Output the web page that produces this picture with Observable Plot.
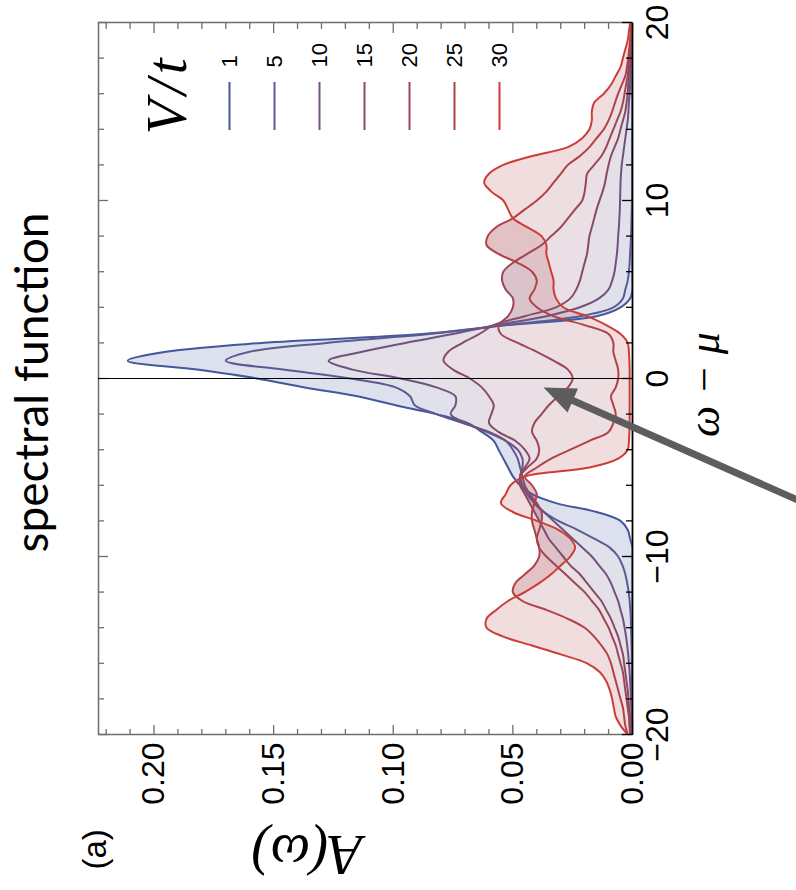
<!DOCTYPE html>
<html><head><meta charset="utf-8">
<script src="https://cdn.jsdelivr.net/npm/d3@7"></script>
<script src="https://cdn.jsdelivr.net/npm/@observablehq/plot@0.6"></script>
<style>
html,body{margin:0;padding:0;background:#fff;}
#page{position:relative;width:796px;height:890px;overflow:hidden;}
#wrap{position:absolute;left:0;top:0;width:890px;height:796px;transform-origin:0 0;transform:translate(0px,890px) rotate(-90deg);}
#wrap svg{position:absolute;max-width:none;}
</style></head><body>
<div id="page"><div id="wrap"></div></div>
<script>
// ω − μ grid
const omega = [
-20,-19.5,-19,-18.5,-18,-17.5,-17,-16.5,-16,-15.5,
-15,-14.5,-14,-13.5,-13,-12.5,-12,-11.5,-11,-10.5,
-10,-9.5,-9,-8.5,-8,-7.5,-7,-6.5,-6,-5.5,
-5,-4.5,-4,-3.5,-3,-2.5,-2,-1.5,-1,-0.5,
0,0.5,1,1.5,2,2.5,3,3.5,4,4.5,
5,5.5,6,6.5,7,7.5,8,8.5,9,9.5,
10,10.5,11,11.5,12,12.5,13,13.5,14,14.5,
15,15.5,16,16.5,17,17.5,18,18.5,19,19.5,
20];
// A(ω) for each V/t
const A_V1 = [
0,0,0,0,0,0,0,0,0,0,
0,0,0,0,0,0,0,0,0,0,
0,0,0.001,0.002,0.005,0.015,0.032,0.042,0.047,0.050,
0.052,0.054,0.056,0.058,0.063,0.069,0.082,0.099,0.115,0.137,
0.157,0.182,0.211,0.195,0.155,0.088,0.052,0.015,0.005,0.001,
0,0,0,0,0,0,0,0,0,0,
0,0,0,0,0,0,0,0,0,0,
0,0,0,0,0,0,0,0,0,0,
0];
const A_V5 = [
0,0,0,0,0.0001,0.0001,0.0002,0.0002,0.0003,0.0003,
0.0004,0.0005,0.0006,0.0007,0.0009,0.0012,0.0016,0.0022,0.003,0.0042,
0.006,0.0095,0.016,0.023,0.031,0.037,0.041,0.043,0.045,0.046,
0.047,0.048,0.050,0.053,0.060,0.071,0.082,0.091,0.093,0.099,
0.118,0.146,0.170,0.160,0.128,0.085,0.053,0.022,0.008,0.004,
0.003,0.002,0.0015,0.0012,0.001,0.0008,0.0006,0.0005,0.0004,0.0003,
0.0002,0.0001,0.0001,0.0001,0.0001,0.0001,0.0001,0.0001,0,0,
0,0,0,0,0,0,0,0,0,0,
0];
const A_V10 = [
0.0002,0.0003,0.0004,0.0005,0.0006,0.0008,0.001,0.0012,0.0015,0.0018,
0.0022,0.0027,0.0033,0.004,0.005,0.006,0.0075,0.009,0.011,0.014,
0.017,0.021,0.025,0.029,0.033,0.037,0.041,0.044,0.046,0.047,
0.046,0.046,0.048,0.053,0.061,0.070,0.076,0.074,0.074,0.082,
0.097,0.117,0.127,0.113,0.095,0.075,0.057,0.036,0.022,0.014,
0.010,0.0085,0.0075,0.007,0.0065,0.0062,0.006,0.0057,0.0055,0.0053,
0.0052,0.0051,0.005,0.0048,0.0045,0.004,0.0035,0.003,0.0025,0.002,
0.0017,0.0015,0.0012,0.001,0.0009,0.0008,0.0006,0.0005,0.0004,0.0003,
0.0002];
const A_V15 = [
0.0005,0.0008,0.001,0.0014,0.0017,0.002,0.0025,0.003,0.0035,0.004,
0.005,0.006,0.0075,0.009,0.011,0.013,0.016,0.019,0.022,0.026,
0.029,0.032,0.035,0.037,0.039,0.041,0.043,0.045,0.047,0.047,
0.045,0.043,0.045,0.049,0.056,0.060,0.059,0.058,0.060,0.063,
0.068,0.075,0.079,0.077,0.071,0.064,0.058,0.045,0.032,0.026,
0.0235,0.022,0.021,0.020,0.019,0.0185,0.018,0.017,0.016,0.015,
0.0138,0.0125,0.0115,0.0108,0.010,0.009,0.0075,0.006,0.005,0.004,
0.003,0.0025,0.002,0.0018,0.0015,0.0012,0.001,0.0008,0.0006,0.0005,
0.0004];
const A_V20 = [
0.001,0.0013,0.0015,0.002,0.0025,0.003,0.0035,0.004,0.005,0.006,
0.007,0.0085,0.010,0.012,0.014,0.017,0.020,0.024,0.028,0.032,
0.036,0.039,0.040,0.039,0.038,0.038,0.040,0.043,0.046,0.047,
0.044,0.040,0.039,0.040,0.042,0.041,0.038,0.035,0.031,0.027,
0.025,0.027,0.033,0.040,0.048,0.055,0.056,0.052,0.050,0.050,
0.053,0.0545,0.054,0.050,0.044,0.038,0.034,0.030,0.027,0.024,
0.021,0.020,0.0195,0.019,0.016,0.013,0.011,0.0095,0.008,0.0065,
0.005,0.004,0.0033,0.0027,0.002,0.0017,0.0012,0.001,0.0008,0.0006,
0.0005];
const A_V25 = [
0.002,0.003,0.0035,0.004,0.005,0.006,0.007,0.008,0.009,0.0105,
0.013,0.016,0.020,0.027,0.036,0.046,0.050,0.049,0.045,0.041,
0.039,0.039,0.040,0.041,0.042,0.042,0.041,0.040,0.042,0.045,
0.040,0.034,0.026,0.018,0.010,0.008,0.007,0.008,0.009,0.007,
0.006,0.006,0.007,0.008,0.008,0.010,0.020,0.033,0.040,0.043,
0.041,0.040,0.042,0.048,0.056,0.061,0.0605,0.057,0.050,0.045,
0.040,0.036,0.033,0.030,0.027,0.022,0.018,0.015,0.012,0.010,
0.0085,0.0073,0.006,0.0045,0.003,0.0023,0.0018,0.0014,0.001,0.0007,
0.0005];
const A_V30 = [
0.002,0.005,0.007,0.0078,0.0085,0.0095,0.011,0.0136,0.019,0.030,
0.042,0.054,0.061,0.061,0.057,0.052,0.045,0.039,0.034,0.030,
0.026,0.024,0.026,0.031,0.040,0.050,0.055,0.053,0.051,0.045,
0.018,0.006,0.002,0.0015,0.0013,0.0012,0.0012,0.0012,0.0012,0.0012,
0.0012,0.0012,0.0013,0.0015,0.002,0.005,0.011,0.019,0.029,0.032,
0.033,0.033,0.034,0.035,0.036,0.036,0.038,0.044,0.050,0.052,
0.054,0.059,0.062,0.060,0.054,0.042,0.027,0.021,0.018,0.017,
0.017,0.016,0.012,0.009,0.007,0.005,0.004,0.003,0.002,0.0015,
0.001];

const Vt = [1, 5, 10, 15, 20, 25, 30];
const lineColors = ["#44579c", "#5b5a92", "#6f527e", "#874b68", "#9c4657", "#b14248", "#cc3d37"];
const seriesValues = [A_V1, A_V5, A_V10, A_V15, A_V20, A_V25, A_V30];

const xMajorTicks = [-20, -10, 0, 10, 20];
const xMinorTicks = [-18, -16, -14, -12, -8, -6, -4, -2, 2, 4, 6, 8, 12, 14, 16, 18];
const yMajorTicks = [0, 0.05, 0.10, 0.15, 0.20];
const yMinorTicks = [0.01, 0.02, 0.03, 0.04, 0.06, 0.07, 0.08, 0.09, 0.11, 0.12, 0.13, 0.14, 0.16, 0.17, 0.18, 0.19, 0.21, 0.22];

// annotation arrow (data coordinates)
const arrowShaft = [{w1: -7.31, a1: -0.0772, w2: -1.0, a2: 0.029}];
const arrowTip = [{w: -0.51, a: 0.0372}];

const rows = omega.map((w, i) => {
  const r = {w};
  Vt.forEach((v, k) => { r["v" + v] = seriesValues[k][i]; });
  return r;
});

const W = 890, H = 796;
const mL = 155, mR = 23, mT = 98, mB = 164;
const fw = W - mL - mR, fh = H - mT - mB;
const gray = "#6e6e6e";
const curve = "catmull-rom";

const bands = [];
for (let k = 0; k < Vt.length - 1; k++) {
  bands.push(Plot.areaY(rows, {x: "w", y1: "v" + Vt[k], y2: "v" + Vt[k + 1], fill: lineColors[k], fillOpacity: 0.18, curve, clip: true}));
}
const lines = Vt.map((v, k) => Plot.lineY(rows, {x: "w", y: "v" + v, stroke: lineColors[k], strokeWidth: 2, curve, clip: true}));

const main = Plot.plot({
  width: W, height: H,
  marginLeft: mL, marginRight: mR, marginTop: mT, marginBottom: mB,
  x: {domain: [-20, 20]},
  y: {domain: [0, 0.2232]},
  style: {background: "white", fontFamily: "'Liberation Sans', Arial, sans-serif", fontSize: "32px", color: "black"},
  marks: [
    ...bands,
    ...lines,
    Plot.frame({stroke: gray, strokeWidth: 1.5}),
    // inward ticks
    Plot.tickX(xMinorTicks, {x: d => d, insetTop: fh - 6, stroke: "black", strokeWidth: 1.3}),
    Plot.tickX(xMajorTicks, {x: d => d, insetTop: fh - 10, stroke: "black", strokeWidth: 1.3}),
    Plot.tickX(xMinorTicks, {x: d => d, insetBottom: fh - 6, stroke: gray, strokeWidth: 1.3}),
    Plot.tickX(xMajorTicks, {x: d => d, insetBottom: fh - 10, stroke: gray, strokeWidth: 1.3}),
    Plot.tickY(yMinorTicks, {y: d => d, insetRight: fw - 6, stroke: gray, strokeWidth: 1.3}),
    Plot.tickY(yMajorTicks, {y: d => d, insetRight: fw - 10, stroke: gray, strokeWidth: 1.3}),
    Plot.tickY(yMinorTicks, {y: d => d, insetLeft: fw - 6, stroke: gray, strokeWidth: 1.3}),
    Plot.tickY(yMajorTicks, {y: d => d, insetLeft: fw - 10, stroke: gray, strokeWidth: 1.3}),
    Plot.ruleY([0], {stroke: "black", strokeWidth: 1.6}),
    Plot.ruleX([0], {stroke: "black", strokeWidth: 1.2}),
    // tick labels
    Plot.axisX({ticks: xMajorTicks, tickSize: 0, tickPadding: 13, label: null, fontSize: 32}),
    Plot.axisY({ticks: yMajorTicks, tickSize: 0, tickPadding: 8, tickFormat: d3.format(".2f"), label: null, fontSize: 32}),
    // axis labels and titles
    Plot.text(["ω − μ"], {text: d => d, frameAnchor: "bottom", dx: -6, dy: 86, lineAnchor: "bottom", fontFamily: "'Liberation Serif', 'DejaVu Serif', serif", fontStyle: "italic", fontSize: 44}),
    Plot.text(["A(ω)"], {text: d => d, frameAnchor: "left", dx: -119, dy: -3, rotate: -90, fontFamily: "'Liberation Serif', 'DejaVu Serif', serif", fontStyle: "italic", fontSize: 56}),
    Plot.text(["spectral function"], {text: d => d, frameAnchor: "top", dx: -4, dy: -51, lineAnchor: "bottom", fontFamily: "Lato, 'Open Sans', sans-serif", fontSize: 46}),
    Plot.text(["(a)"], {text: d => d, frameAnchor: "top-left", dx: -135, dy: 7, textAnchor: "start", lineAnchor: "bottom", fontSize: 33}),
    // arrow
    Plot.link(arrowShaft, {x1: "w1", y1: "a1", x2: "w2", y2: "a2", stroke: "#5d5d5d", strokeWidth: 7}),
    Plot.vector(arrowTip, {x: "w", y: "a", rotate: 23.8, length: 32, shape: "spike", r: 13, anchor: "end", fill: "#5d5d5d", stroke: "none"})
  ]
});
main.style.left = "0px";
main.style.top = "0px";
document.getElementById("wrap").appendChild(main);

// legend (V/t)
const legendRows = Vt.map((v, k) => ({label: String(v), color: lineColors[k]}));
const legend = Plot.plot({
  width: 140, height: 440,
  marginLeft: 0, marginRight: 0, marginTop: 0, marginBottom: 0,
  x: {domain: [0, 1], range: [20, 68], axis: null},
  y: {type: "point", domain: legendRows.map(d => d.label), range: [128, 399], padding: 0, axis: null},
  style: {background: "transparent", fontFamily: "'Liberation Sans', Arial, sans-serif", color: "black", overflow: "visible"},
  marks: [
    ...legendRows.map(d => Plot.ruleY([d], {y: "label", x1: 0, x2: 1, stroke: d.color, strokeWidth: 2})),
    Plot.text(legendRows, {y: "label", x: 1, dx: 14, text: "label", textAnchor: "start", fontSize: 22, fill: "black"}),
    Plot.text(["V\u200A/\u200At"], {text: d => d, frameAnchor: "top-left", dx: 53, dy: 85, textAnchor: "middle", lineAnchor: "bottom", fontFamily: "'Liberation Serif', 'DejaVu Serif', serif", fontStyle: "italic", fontSize: 57, fill: "black"})
  ]
});
legend.style.left = "740px";
legend.style.top = "100px";
document.getElementById("wrap").appendChild(legend);
</script></body></html>
